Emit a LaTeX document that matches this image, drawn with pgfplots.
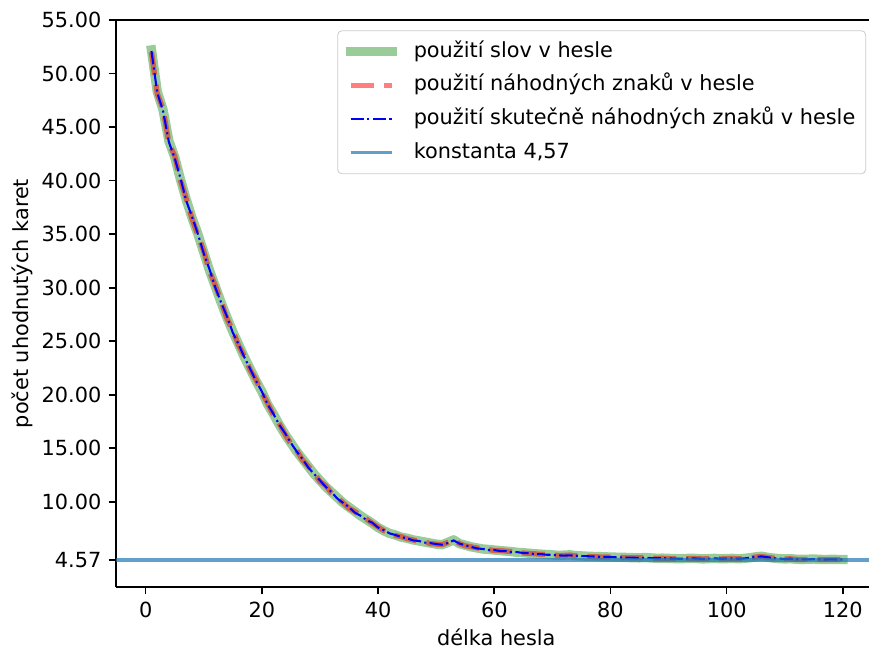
\documentclass[border=0pt]{standalone}
\usepackage{fontspec}
\setmainfont{DejaVu Sans}
\usepackage{pgfplots}
\usepackage{pgfplotstable}
\pgfplotsset{compat=1.18}
\definecolor{mplgreen}{RGB}{0,128,0}
\definecolor{mplred}{RGB}{255,0,0}
\definecolor{mplblue}{RGB}{0,0,255}
\definecolor{mplC0}{RGB}{31,119,180}
\pgfplotstableread{
x w r t
1 52.2 52.0 52.1
2 48.3 48.1 48.2
3 46.6 46.7 46.5
4 43.7 43.5 43.6
5 42.2 42.3 42.1
6 40.1 40.0 40.2
7 38.2 38.3 38.1
8 36.5 36.4 36.6
9 35.0 34.9 35.0
10 33.3 33.4 33.2
11 31.6 31.5 31.7
12 30.1 30.2 30.0
13 28.6 28.7 28.6
14 27.2 27.1 27.3
15 25.9 26.0 25.8
16 24.7 24.6 24.7
17 23.5 23.6 23.5
18 22.4 22.3 22.4
19 21.3 21.4 21.3
20 20.3 20.2 20.3
21 19.1 19.2 19.1
22 18.2 18.1 18.2
23 17.2 17.3 17.2
24 16.3 16.3 16.4
25 15.5 15.4 15.5
26 14.7 14.8 14.7
27 14.0 13.9 14.0
28 13.3 13.3 13.2
29 12.6 12.7 12.6
30 12.0 11.9 12.0
31 11.4 11.5 11.4
32 10.9 10.8 10.9
33 10.4 10.4 10.3
34 9.9 9.9 9.9
35 9.5 9.4 9.5
36 9.1 9.1 9.0
37 8.7 8.7 8.7
38 8.35 8.4 8.3
39 8.0 8.0 8.05
40 7.6 7.65 7.6
41 7.3 7.3 7.35
42 7.05 7.1 7.05
43 6.9 6.85 6.9
44 6.7 6.75 6.7
45 6.6 6.55 6.6
46 6.45 6.45 6.4
47 6.35 6.3 6.35
48 6.25 6.25 6.2
49 6.15 6.1 6.15
50 6.05 6.05 6.05
51 6.0 6.0 6.0
52 6.2 6.2 6.15
53 6.45 6.45 6.4
54 6.1 6.1 6.1
55 5.95 5.9 5.95
56 5.8 5.8 5.8
57 5.7 5.7 5.65
58 5.6 5.6 5.6
59 5.55 5.55 5.5
60 5.5 5.45 5.5
61 5.45 5.45 5.4
62 5.4 5.4 5.4
63 5.35 5.35 5.3
64 5.28 5.26 5.3
65 5.25 5.22 5.22
66 5.2 5.18 5.2
67 5.15 5.15 5.12
68 5.12 5.1 5.12
69 5.08 5.1 5.06
70 5.05 5.04 5.05
71 5.0 5.0 5.0
72 5.02 5.0 4.98
73 5.05 5.03 5.0
74 4.98 4.96 4.97
75 4.95 4.93 4.94
76 4.92 4.9 4.92
77 4.9 4.88 4.9
78 4.88 4.86 4.87
79 4.86 4.85 4.85
80 4.85 4.84 4.85
81 4.83 4.82 4.82
82 4.82 4.8 4.81
83 4.8 4.79 4.79
84 4.78 4.77 4.78
85 4.77 4.78 4.76
86 4.8 4.8 4.78
87 4.76 4.75 4.75
88 4.73 4.72 4.73
89 4.74 4.73 4.74
90 4.72 4.7 4.71
91 4.7 4.69 4.7
92 4.68 4.68 4.68
93 4.71 4.72 4.7
94 4.73 4.72 4.72
95 4.7 4.69 4.7
96 4.67 4.67 4.66
97 4.7 4.7 4.69
98 4.72 4.71 4.72
99 4.68 4.67 4.68
100 4.7 4.69 4.7
101 4.72 4.72 4.71
102 4.68 4.67 4.68
103 4.72 4.72 4.71
104 4.78 4.77 4.78
105 4.86 4.85 4.86
106 4.92 4.9 4.9
107 4.82 4.82 4.83
108 4.75 4.75 4.74
109 4.7 4.7 4.7
110 4.67 4.67 4.66
111 4.69 4.68 4.69
112 4.64 4.63 4.64
113 4.62 4.62 4.62
114 4.64 4.63 4.63
115 4.66 4.66 4.65
116 4.63 4.62 4.63
117 4.61 4.61 4.61
118 4.63 4.62 4.63
119 4.62 4.61 4.61
120 4.62 4.61 4.62
}\datatable
\begin{document}
\begin{tikzpicture}
\begin{axis}[
  scale only axis,
  width=361.5pt, height=272.2pt,
  xmin=-5.1, xmax=124.5,
  ymin=2.05, ymax=55,
  axis x line=box, axis y line=left,
  x axis line style={-, line width=0.8pt},
  y axis line style={-, line width=0.8pt},
  xtick pos=left, ytick pos=left,
  tick align=outside,
  major tick length=3.5pt,
  every tick/.style={black, line width=0.8pt},
  xtick={0,20,40,60,80,100,120},
  xticklabels={0,20,40,60,80,100,120},
  ytick={4.57,10,15,20,25,30,35,40,45,50,55},
  yticklabels={4.57,10.00,15.00,20.00,25.00,30.00,35.00,40.00,45.00,50.00,55.00},
  every axis x label/.style={at={(axis description cs:0.5,0)}, xshift=1.8pt, yshift=-24pt, anchor=center},
  every axis y label/.style={at={(axis description cs:0,0.5)}, xshift=-45.1pt, rotate=90, anchor=center},
  xlabel={délka hesla},
  ylabel={počet uhodnutých karet},
  legend cell align=left,
  legend image code/.code={\draw[#1] (0pt,0pt) -- (20pt,0pt);},
  legend style={at={(axis description cs:1,1)}, anchor=north east, xshift=-1.4pt, yshift=-5pt,
    draw=black!20, fill=white, rounded corners=2pt,
    inner xsep=4pt, inner ysep=4pt, row sep=4.2pt, column sep=7pt,
    nodes={inner sep=1pt, text height=7.6pt, text depth=2.4pt}},
  clip=true,
]
\addplot[color=mplgreen, draw opacity=0.4, line width=4.5pt, line cap=rect, line join=round] table[x=x, y=w] {\datatable};
\addlegendentry{použití slov v hesle}
\addplot[color=mplred, draw opacity=0.5, line width=2.5pt, dash pattern=on 11pt off 4.8pt, line join=round] table[x=x, y=r] {\datatable};
\addlegendentry{použití náhodných znaků v hesle}
\addplot[color=mplblue, line width=1pt, dash pattern=on 6.4pt off 1.6pt on 1pt off 1.6pt, line join=round] table[x=x, y=t] {\datatable};
\addlegendentry{použití skutečně náhodných znaků v hesle}
\addplot[color=mplC0, draw opacity=0.7, line width=1.5pt] coordinates {(-5.1,4.57) (124.5,4.57)};
\addlegendentry{konstanta 4,57}
\end{axis}
\pgfresetboundingbox
\path[use as bounding box] ([xshift=-55.7pt,yshift=-32.6pt]current axis.south west) rectangle ([yshift=9.6pt]current axis.north east);
\end{tikzpicture}
\end{document}
